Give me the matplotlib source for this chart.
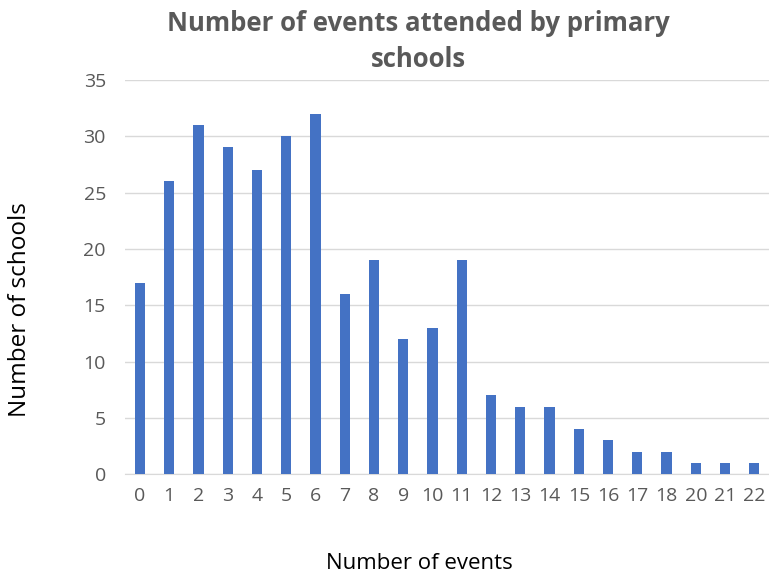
import matplotlib
matplotlib.use('Agg')
import matplotlib.pyplot as plt
import numpy as np

# 행사 참가 횟수별 학교 수
events = ['0', '1', '2', '3', '4', '5', '6', '7', '8', '9', '10', '11',
          '12', '13', '14', '15', '16', '17', '18', '20', '21', '22']
schools = [17, 26, 31, 29, 27, 30, 32, 16, 19, 12, 13, 19,
           7, 6, 6, 4, 3, 2, 2, 1, 1, 1]
yticks = [0, 5, 10, 15, 20, 25, 30, 35]

plt.rcParams['font.family'] = ['Open Sans', 'DejaVu Sans']
txt = '#595959'

fig = plt.figure(figsize=(7.69, 5.79), dpi=100)
ax = fig.add_axes([0.163, 0.181, 0.837, 0.681])

x = np.arange(len(events))
ax.bar(x, schools, width=0.35, color='#4472C4', zorder=3)
ax.set_xlim(-0.5, len(events) - 0.5)
ax.set_ylim(0, 35)
ax.set_yticks(yticks)
ax.set_xticks(x)
ax.set_xticklabels(events)
ax.grid(axis='y', color='#D9D9D9', linewidth=1, zorder=0)
for s in ['top', 'right', 'left']:
    ax.spines[s].set_visible(False)
ax.spines['bottom'].set_color('#D9D9D9')
ax.tick_params(length=0, colors=txt, labelsize=14)
ax.tick_params(axis='x', pad=9)
ax.tick_params(axis='y', pad=14)

fig.text(0.544, 0.928, 'Number of events attended by primary\nschools', ha='center', va='center',
         fontsize=18.5, fontweight='bold', color=txt, linespacing=1.45)
fig.text(0.026, 0.465, 'Number of schools', rotation=90, ha='center', va='center',
         fontsize=17.5, color='black')
fig.text(0.546, 0.027, 'Number of events', ha='center', va='center',
         fontsize=16, color='black')

fig.savefig('out.png', dpi=100)
